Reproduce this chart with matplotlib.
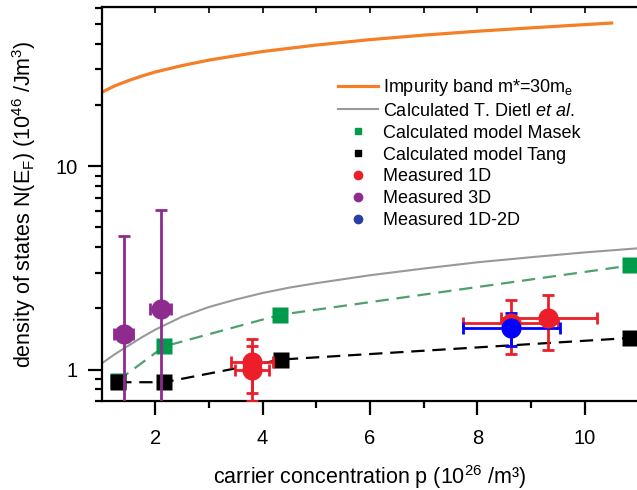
import matplotlib
matplotlib.use("Agg")
import matplotlib.pyplot as plt
from matplotlib.lines import Line2D

plt.rcParams['font.family'] = ['Liberation Sans', 'DejaVu Sans']
plt.rcParams['mathtext.fontset'] = 'custom'
plt.rcParams['mathtext.rm'] = 'Liberation Sans'
plt.rcParams['mathtext.it'] = 'Liberation Sans:italic'

# impurity band m*=30 m_e
imp_x = [1, 1.25, 1.5, 1.75, 2, 2.5, 3, 3.5, 4, 5, 6, 7, 8, 9, 10, 10.5]
imp_y = [23.1, 24.9, 26.4, 27.8, 29.1, 31.3, 33.3, 35.0, 36.7, 39.5, 42.0, 44.2, 46.2, 48.0, 49.8, 50.7]

# Dietl et al.
dietl_x = [1, 1.25, 1.5, 1.75, 2, 2.5, 3, 3.5, 4, 4.5, 5, 6, 7, 8, 9, 10, 11]
dietl_y = [1.07, 1.19, 1.31, 1.44, 1.57, 1.82, 2.03, 2.21, 2.38, 2.53, 2.66, 2.91, 3.14, 3.37, 3.57, 3.77, 3.95]

# calculated models
masek_x = [1.3, 2.17, 4.33, 10.85]
masek_y = [0.88, 1.30, 1.86, 3.25]
tang_x = [1.31, 2.17, 4.35, 10.85]
tang_y = [0.866, 0.866, 1.12, 1.43]

# measured 1D
m1d_x = [3.8, 3.8, 8.62, 9.32]
m1d_y = [1.09, 0.99, 1.69, 1.79]
m1d_ylo = [0.77, 0.70, 1.19, 1.25]
m1d_yhi = [1.41, 1.31, 2.19, 2.33]
m1d_xlo = [3.42, 3.49, 7.73, 8.44]
m1d_xhi = [4.20, 4.11, 9.50, 10.22]

# measured 3D
m3d_x = [1.41, 2.10]
m3d_y = [1.50, 1.99]
m3d_ylo = [0.05, 0.05]
m3d_yhi = [4.54, 6.07]
m3d_xlo = [1.23, 1.91]
m3d_xhi = [1.59, 2.29]

# measured 1D-2D
m12_x = [8.62]
m12_y = [1.60]
m12_ylo = [1.30]
m12_yhi = [1.89]
m12_xlo = [7.73]
m12_xhi = [9.54]

c_orange = '#F47F27'
c_gray = '#999999'
c_green = '#009B4A'
c_green_line = '#4FA06C'
c_red = '#EC1E2A'
c_purple = '#8E2B8E'
c_blue = '#0000FF'


def errs(v, lo, hi):
    return [a - l for a, l in zip(v, lo)], [h - a for a, h in zip(v, hi)]


fig = plt.figure(figsize=(6.37, 4.9), dpi=100)
ax = fig.add_axes([101.5 / 637, 89 / 490, 537 / 637, 394.3 / 490])

ax.plot(imp_x, imp_y, color=c_orange, lw=2.3, zorder=2)
ax.plot(dietl_x, dietl_y, color=c_gray, lw=1.5, zorder=2)

ax.plot(masek_x, masek_y, color=c_green_line, lw=1.6, dashes=(6, 3.5), zorder=2)
ax.plot(masek_x, masek_y, 's', color=c_green, ms=11, mec='none', zorder=3)
ax.plot(tang_x, tang_y, color='black', lw=1.6, dashes=(6, 3.5), zorder=2)
ax.plot(tang_x, tang_y, 's', color='black', ms=11, mec='none', zorder=3)

ebkw = dict(fmt='o', ms=14.5, mec='none', elinewidth=2, capsize=4.5, capthick=2, zorder=4)

ax.errorbar(m3d_x, m3d_y, yerr=errs(m3d_y, m3d_ylo, m3d_yhi),
            xerr=errs(m3d_x, m3d_xlo, m3d_xhi), color=c_purple, **ebkw)
ax.errorbar(m1d_x, m1d_y, yerr=errs(m1d_y, m1d_ylo, m1d_yhi),
            xerr=errs(m1d_x, m1d_xlo, m1d_xhi), color=c_red, **ebkw)
ax.errorbar(m12_x, m12_y, yerr=errs(m12_y, m12_ylo, m12_yhi),
            xerr=errs(m12_x, m12_xlo, m12_xhi), color=c_blue, **ebkw)

ax.set_yscale('log')
ax.set_xlim(1, 11)
ax.set_ylim(0.7, 61)
ax.set_xticks([2, 4, 6, 8, 10])
ax.set_xticks([3, 5, 7, 9], minor=True)
ax.set_yticks([1, 10])
ax.set_yticklabels(['1', '10'])
ax.yaxis.set_minor_formatter(plt.NullFormatter())

for s in ax.spines.values():
    s.set_linewidth(1.6)
ax.tick_params(which='major', direction='out', length=10, width=1.6, labelsize=14.5)
ax.tick_params(axis='x', which='major', pad=10)
ax.tick_params(axis='y', which='major', pad=7)
ax.tick_params(which='minor', direction='out', length=5, width=1.6)

top = ax.secondary_xaxis('top')
top.set_xticks(range(1, 12))
top.tick_params(direction='in', length=4, width=1.2, labeltop=False)
top.xaxis.set_minor_locator(plt.NullLocator())

ax.set_xlabel('carrier concentration p (10$^{26}$ /m³)', fontsize=15.5, labelpad=11)
ax.set_ylabel('density of states N(E$_\\mathrm{F}$) (10$^{46}$ /Jm$^3$)', fontsize=15.5, labelpad=13)

handles = [
    Line2D([], [], color=c_orange, lw=2.3),
    Line2D([], [], color=c_gray, lw=1.5),
    Line2D([], [], ls='none', marker='s', color=c_green, ms=5),
    Line2D([], [], ls='none', marker='s', color='black', ms=5),
    Line2D([], [], ls='none', marker='o', color=c_red, ms=6),
    Line2D([], [], ls='none', marker='o', color=c_purple, ms=6),
    Line2D([], [], ls='none', marker='o', color='#2A3FA0', ms=6),
]
labels = [
    'Impurity band m*=30m$_\\mathrm{e}$',
    'Calculated T. Dietl $et\\ al.$',
    'Calculated model Masek',
    'Calculated model Tang',
    'Measured 1D',
    'Measured 3D',
    'Measured 1D-2D',
]
ax.legend(handles, labels, loc='upper left', bbox_to_anchor=(0.44, 0.822), frameon=False,
          fontsize=13, handlelength=2.2, handletextpad=0.3, labelspacing=0.27,
          borderpad=0, borderaxespad=0)

fig.savefig('out.png', dpi=100)
